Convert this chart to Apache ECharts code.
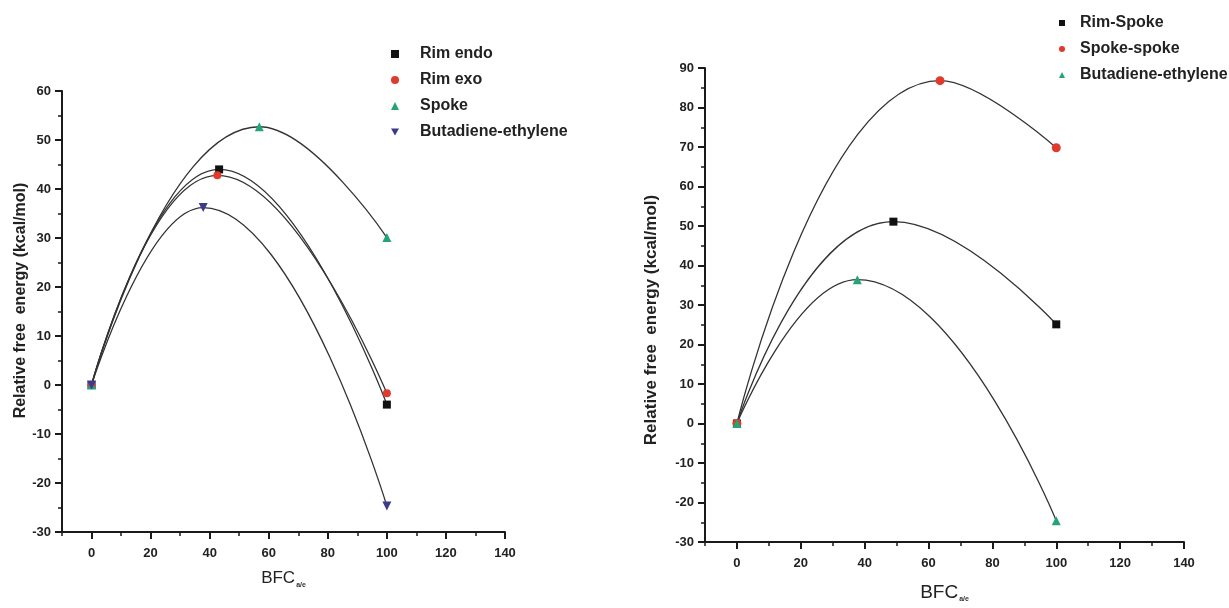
<!DOCTYPE html>
<html>
<head>
<meta charset="utf-8">
<script src="https://cdn.jsdelivr.net/npm/echarts@6/dist/echarts.min.js"></script>
<style>
html,body{margin:0;padding:0;background:#fff;}
#chart{width:1229px;height:608px;}
</style>
</head>
<body>
<div id="chart"></div>
<script>
// ---- Left panel data ----
const rimEndoX = [0, 43.2, 100];
const rimEndoY = [0, 44.0, -4.0];
const rimExoX = [0, 42.6, 100];
const rimExoY = [0, 42.8, -1.7];
const spokeX = [0, 56.8, 100];
const spokeY = [0, 52.7, 30.1];
const butaLeftX = [0, 37.8, 100];
const butaLeftY = [0, 36.2, -24.7];

// ---- Right panel data ----
const rimSpokeX = [0, 49.0, 100];
const rimSpokeY = [0, 51.1, 25.1];
const spokeSpokeX = [0, 63.6, 100];
const spokeSpokeY = [0, 86.8, 69.8];
const butaRightX = [0, 37.7, 100];
const butaRightY = [0, 36.4, -24.6];

// ---- Tick labels ----
const xTickLabels = [0, 20, 40, 60, 80, 100, 120, 140];
const xMinorTicks = [-10, 10, 30, 50, 70, 90, 110, 130];
const leftNames = ['Rim endo', 'Rim exo', 'Spoke', 'Butadiene-ethylene'];
const rightNames = ['Rim-Spoke', 'Spoke-spoke', 'Butadiene-ethylene'];
const yTitle = 'Relative free  energy (kcal/mol)';

const zip = (xs, ys) => xs.map((x, i) => [x, ys[i]]);
const FONT = '"Liberation Sans", Arial, sans-serif';
const AX = '#1a1a1a';
const LINE = '#333333';
const C_BLACK = '#111111', C_RED = '#e03a2e', C_GREEN = '#22a572', C_BLUE = '#3d3a8c';
const INV_TRI = 'path://M0,0 L10,0 L5,9 Z';

function xMain(grid, nameFont, gap) {
  return {
    type: 'value', gridIndex: grid, position: 'bottom', min: -10, max: 140,
    axisLine: { show: true, onZero: false, lineStyle: { color: AX, width: 2 } },
    axisTick: { show: true, customValues: xTickLabels, length: 7, lineStyle: { color: AX, width: 2 } },
    axisLabel: { customValues: xTickLabels, margin: 15, fontFamily: FONT, fontWeight: 'bold', fontSize: 13, color: '#222' },
    splitLine: { show: false },
    name: 'BFC{s|a/e}', nameLocation: 'middle', nameGap: gap,
    nameTextStyle: { fontFamily: FONT, fontSize: nameFont, color: '#222',
      rich: { s: { fontFamily: FONT, fontSize: 7, fontWeight: 'bold', color: '#333', padding: [14, 0, 0, 1] } } }
  };
}
function xMinor(grid) {
  return {
    type: 'value', gridIndex: grid, position: 'bottom', min: -10, max: 140,
    axisLine: { show: false, onZero: false },
    axisTick: { show: true, customValues: xMinorTicks, length: 4, lineStyle: { color: AX, width: 1.5 } },
    axisLabel: { show: false }, splitLine: { show: false }
  };
}
function yAx(grid, max, nameFont, gap, pad) {
  return {
    type: 'value', gridIndex: grid, min: -30, max: max, interval: 10,
    axisLine: { show: true, onZero: false, lineStyle: { color: AX, width: 2 } },
    axisTick: { show: true, length: 7, lineStyle: { color: AX, width: 2 } },
    minorTick: { show: true, splitNumber: 2, length: 4, lineStyle: { color: AX, width: 1.5 } },
    axisLabel: { margin: 11, fontFamily: FONT, fontWeight: 'bold', fontSize: 13, color: '#222' },
    splitLine: { show: false },
    name: yTitle, nameLocation: 'middle', nameGap: gap,
    nameTextStyle: { fontFamily: FONT, fontWeight: 'bold', fontSize: nameFont, color: '#222', padding: pad }
  };
}
function ser(name, xi, yi, data, symbol, size, color) {
  return {
    type: 'line', name: name, xAxisIndex: xi, yAxisIndex: yi, data: data,
    smooth: 0.5, symbol: symbol, symbolSize: size, showSymbol: true,
    itemStyle: { color: color }, lineStyle: { color: LINE, width: 1.3 },
    emphasis: { disabled: true }, z: 3
  };
}

const chart = echarts.init(document.getElementById('chart'), null, { renderer: 'canvas' });
chart.setOption({
  animation: false,
  backgroundColor: '#ffffff',
  grid: [
    { left: 62, top: 91, width: 443, height: 441 },
    { left: 705, top: 68, width: 479, height: 475 }
  ],
  xAxis: [xMain(0, 17, 36), xMain(1, 19, 40), xMinor(0), xMinor(1)],
  yAxis: [yAx(0, 60, 16, 33, [0, 0, 0, 22]), yAx(1, 90, 17, 45, [0, 30, 0, 0])],
  legend: [
    {
      left: 386, top: 40, orient: 'vertical', itemWidth: 8, itemHeight: 8, itemGap: 8,
      textStyle: { fontFamily: FONT, fontWeight: 'bold', fontSize: 16, lineHeight: 18, color: '#222', padding: [0, 0, 0, 16] },
      data: [
        { name: leftNames[0], icon: 'rect', itemStyle: { color: C_BLACK } },
        { name: leftNames[1], icon: 'circle', itemStyle: { color: C_RED } },
        { name: leftNames[2], icon: 'triangle', itemStyle: { color: C_GREEN } },
        { name: leftNames[3], icon: INV_TRI, itemStyle: { color: C_BLUE } }
      ],
      selectedMode: false
    },
    {
      left: 1054, top: 9, orient: 'vertical', itemWidth: 6, itemHeight: 6, itemGap: 8,
      textStyle: { fontFamily: FONT, fontWeight: 'bold', fontSize: 16, lineHeight: 18, color: '#222', padding: [0, 0, 0, 10] },
      data: [
        { name: rightNames[0], icon: 'rect', itemStyle: { color: C_BLACK } },
        { name: rightNames[1], icon: 'circle', itemStyle: { color: C_RED } },
        { name: rightNames[2], icon: 'triangle', itemStyle: { color: C_GREEN } }
      ],
      selectedMode: false
    }
  ],
  series: [
    ser(leftNames[0], 0, 0, zip(rimEndoX, rimEndoY), 'rect', 8, C_BLACK),
    ser(leftNames[1], 0, 0, zip(rimExoX, rimExoY), 'circle', 8, C_RED),
    ser(leftNames[2], 0, 0, zip(spokeX, spokeY), 'triangle', 9, C_GREEN),
    ser(leftNames[3], 0, 0, zip(butaLeftX, butaLeftY), INV_TRI, 9, C_BLUE),
    ser(rightNames[0], 1, 1, zip(rimSpokeX, rimSpokeY), 'rect', 8, C_BLACK),
    ser(rightNames[1], 1, 1, zip(spokeSpokeX, spokeSpokeY), 'circle', 9, C_RED),
    ser(rightNames[2], 1, 1, zip(butaRightX, butaRightY), 'triangle', 9, C_GREEN)
  ]
});
</script>
</body>
</html>
